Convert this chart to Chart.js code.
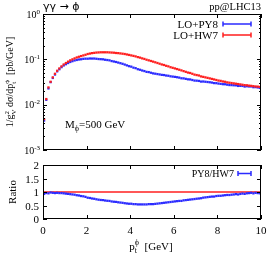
<!DOCTYPE html>
<html>
<head>
<meta charset="utf-8">
<script src="https://cdn.jsdelivr.net/npm/chart.js@4.4.1/dist/chart.umd.min.js"></script>
<style>
  body { margin: 0; background: #fff; }
  #wrap { position: relative; width: 270px; height: 256px; }
  #top { position: absolute; left: 0; top: 0; }
  #bot { position: absolute; left: 0; top: 150px; }
</style>
</head>
<body>
<div id="wrap">
  <canvas id="top" width="270" height="160"></canvas>
  <canvas id="bot" width="270" height="106"></canvas>
</div>
<script>
// bin centres of p_t (GeV)
const ptBins = [
  0.05, 0.15, 0.25, 0.35, 0.45, 0.55, 0.65, 0.75, 0.85, 0.95,
  1.05, 1.15, 1.25, 1.35, 1.45, 1.55, 1.65, 1.75, 1.85, 1.95,
  2.05, 2.15, 2.25, 2.35, 2.45, 2.55, 2.65, 2.75, 2.85, 2.95,
  3.05, 3.15, 3.25, 3.35, 3.45, 3.55, 3.65, 3.75, 3.85, 3.95,
  4.05, 4.15, 4.25, 4.35, 4.45, 4.55, 4.65, 4.75, 4.85, 4.95,
  5.05, 5.15, 5.25, 5.35, 5.45, 5.55, 5.65, 5.75, 5.85, 5.95,
  6.05, 6.15, 6.25, 6.35, 6.45, 6.55, 6.65, 6.75, 6.85, 6.95,
  7.05, 7.15, 7.25, 7.35, 7.45, 7.55, 7.65, 7.75, 7.85, 7.95,
  8.05, 8.15, 8.25, 8.35, 8.45, 8.55, 8.65, 8.75, 8.85, 8.95,
  9.05, 9.15, 9.25, 9.35, 9.45, 9.55, 9.65, 9.75, 9.85, 9.95
];

// LO+HW7, pb/GeV
const hw7 = [
  0.0048, 0.0133, 0.024, 0.032, 0.040, 0.048, 0.056, 0.063, 0.070, 0.077,
  0.083, 0.089, 0.095, 0.100, 0.105, 0.110, 0.114, 0.118, 0.122, 0.126,
  0.131, 0.134, 0.137, 0.139, 0.141, 0.142, 0.143, 0.143, 0.143, 0.143,
  0.142, 0.141, 0.140, 0.138, 0.137, 0.135, 0.133, 0.131, 0.128, 0.125,
  0.122, 0.119, 0.116, 0.112, 0.109, 0.105, 0.102, 0.098, 0.095, 0.092,
  0.089, 0.086, 0.083, 0.080, 0.077, 0.075, 0.072, 0.070, 0.067, 0.065,
  0.063, 0.061, 0.059, 0.057, 0.055, 0.053, 0.051, 0.050, 0.048, 0.046,
  0.045, 0.044, 0.042, 0.041, 0.040, 0.039, 0.038, 0.037, 0.036, 0.035,
  0.034, 0.0335, 0.0325, 0.032, 0.031, 0.0305, 0.030, 0.0295, 0.029, 0.0285,
  0.028, 0.0275, 0.027, 0.0268, 0.0263, 0.026, 0.0256, 0.0252, 0.025, 0.0246
];

// LO+PY8, pb/GeV
const py8 = [
  0.00446, 0.0128, 0.0228, 0.0314, 0.0388, 0.0461, 0.0543, 0.0605, 0.0672, 0.0732,
  0.0780, 0.0828, 0.0874, 0.0910, 0.0945, 0.0968, 0.0992, 0.1003, 0.1025, 0.1033,
  0.1032, 0.1043, 0.1040, 0.1041, 0.1029, 0.1015, 0.1008, 0.1001, 0.0979, 0.0965,
  0.0950, 0.0915, 0.0895, 0.0874, 0.0848, 0.0822, 0.0797, 0.0766, 0.0735, 0.0706,
  0.0689, 0.0655, 0.0638, 0.0605, 0.0589, 0.0567, 0.0551, 0.0529, 0.0523, 0.0506,
  0.0490, 0.0482, 0.0473, 0.0464, 0.0454, 0.0450, 0.0439, 0.0434, 0.0422, 0.0416,
  0.0410, 0.0403, 0.0395, 0.0382, 0.0380, 0.0371, 0.0362, 0.0360, 0.0350, 0.0340,
  0.0338, 0.0334, 0.0323, 0.0324, 0.0320, 0.0316, 0.0312, 0.0307, 0.0299, 0.0298,
  0.0292, 0.0288, 0.0283, 0.0282, 0.0276, 0.0271, 0.0270, 0.0268, 0.0267, 0.0259,
  0.0260, 0.0259, 0.0251, 0.0255, 0.0252, 0.0252, 0.0243, 0.0244, 0.0240, 0.0234
];

const xTicks = [0, 2, 4, 6, 8, 10];
const logTicks = [0.001, 0.01, 0.1, 1];
const logTickLabels = [['10', '-3'], ['10', '-2'], ['10', '-1'], ['10', '0']];
const ratioTicks = [0, 0.5, 1, 1.5, 2];
const ratioTickLabels = ['0', '0.5', '1', '1.5', '2'];

const BLUE = '#2b2bff';
const RED = '#ff1f1f';
const SERIF = '"Liberation Serif", "Times New Roman", serif';
const SANS = '"DejaVu Sans", sans-serif';

// ---------- helpers ----------
function partsWidth(ctx, parts) {
  let w = 0;
  parts.forEach(p => {
    ctx.font = p.s + 'px ' + (p.f || SERIF);
    if (p.t !== undefined) w += ctx.measureText(p.t).width;
    else w += Math.max(ctx.measureText(p.sub || '').width, ctx.measureText(p.sup || '').width);
  });
  return w;
}

function drawRich(ctx, parts, x, y, align) {
  const w = partsWidth(ctx, parts);
  let cx = align === 'center' ? x - w / 2 : (align === 'right' ? x - w : x);
  ctx.textAlign = 'left';
  ctx.textBaseline = 'alphabetic';
  parts.forEach(p => {
    ctx.font = p.s + 'px ' + (p.f || SERIF);
    if (p.t !== undefined) {
      ctx.fillText(p.t, cx, y);
      cx += ctx.measureText(p.t).width;
    } else {
      if (p.sup) ctx.fillText(p.sup, cx, y - (p.up || 4));
      if (p.sub) ctx.fillText(p.sub, cx, y + (p.down || 2));
      cx += Math.max(ctx.measureText(p.sub || '').width, ctx.measureText(p.sup || '').width);
    }
  });
}

function errKey(ctx, x0, x1, y, color) {
  ctx.strokeStyle = color;
  ctx.lineWidth = 1.5;
  ctx.beginPath();
  ctx.moveTo(x0, y); ctx.lineTo(x1, y);
  ctx.moveTo(x0, y - 2.5); ctx.lineTo(x0, y + 2.5);
  ctx.moveTo(x1, y - 2.5); ctx.lineTo(x1, y + 2.5);
  ctx.stroke();
}

function frameTicks(chart, yMajor, yMinor) {
  const { ctx, chartArea: a, scales: { x, y } } = chart;
  ctx.save();
  ctx.strokeStyle = '#000';
  ctx.lineWidth = 1;
  ctx.strokeRect(a.left + 0.5, a.top + 0.5, a.right - a.left - 1, a.bottom - a.top - 1);
  ctx.beginPath();
  xTicks.forEach(v => {
    const px = Math.round(x.getPixelForValue(v)) + 0.5;
    ctx.moveTo(px, a.bottom); ctx.lineTo(px, a.bottom - 4);
    ctx.moveTo(px, a.top); ctx.lineTo(px, a.top + 4);
  });
  yMajor.forEach(v => {
    const py = Math.round(y.getPixelForValue(v)) + 0.5;
    ctx.moveTo(a.left, py); ctx.lineTo(a.left + 4, py);
    ctx.moveTo(a.right, py); ctx.lineTo(a.right - 4, py);
  });
  yMinor.forEach(v => {
    const py = Math.round(y.getPixelForValue(v)) + 0.5;
    ctx.moveTo(a.left, py); ctx.lineTo(a.left + 2, py);
    ctx.moveTo(a.right, py); ctx.lineTo(a.right - 2, py);
  });
  ctx.stroke();
  ctx.restore();
}

// ---------- top panel ----------
const logMinor = [];
logTicks.slice(0, 3).forEach(d => { for (let k = 2; k <= 9; k++) logMinor.push(d * k); });

const topDecor = {
  id: 'topDecor',
  afterDraw(chart) {
    const { ctx, chartArea: a, scales: { y } } = chart;
    frameTicks(chart, logTicks, logMinor);
    ctx.save();
    ctx.fillStyle = '#000';
    // y tick labels
    logTicks.forEach((v, i) => {
      const py = y.getPixelForValue(v);
      drawRich(ctx, [{ t: logTickLabels[i][0], s: 10 }, { sup: logTickLabels[i][1], s: 7, up: 4 }], a.left - 3, py + 3.5, 'right');
    });
    // titles
    drawRich(ctx, [{ t: 'γγ → ϕ', s: 11, f: SANS }], a.left, 10, 'left');
    drawRich(ctx, [{ t: 'pp@LHC13', s: 10.5 }], a.right, 10, 'right');
    // legend
    drawRich(ctx, [{ t: 'LO+PY8', s: 11 }], 218, 28, 'right');
    drawRich(ctx, [{ t: 'LO+HW7', s: 11 }], 218, 39, 'right');
    errKey(ctx, 223, 251, 24, BLUE);
    errKey(ctx, 223, 251, 35, RED);
    // mass label
    drawRich(ctx, [{ t: 'M', s: 11 }, { sub: 'ϕ', s: 8, down: 2.5 }, { t: '=500 GeV', s: 11 }], 65, 128, 'left');
    // y title
    ctx.translate(13, 82);
    ctx.rotate(-Math.PI / 2);
    drawRich(ctx, [
      { t: '1/g', s: 10 }, { sub: 'V', sup: '2', s: 7, up: 4, down: 2.5 },
      { t: ' dσ/dp', s: 10 }, { sub: 't', sup: 'ϕ', s: 7, up: 4, down: 2.5 },
      { t: '  [pb/GeV]', s: 10 }
    ], 0, 0, 'center');
    ctx.restore();
  }
};

new Chart(document.getElementById('top'), {
  type: 'scatter',
  data: {
    datasets: [
      {
        label: 'LO+PY8',
        data: ptBins.map((x, i) => ({ x: x, y: py8[i] })),
        backgroundColor: BLUE, borderWidth: 0,
        pointStyle: 'rect', pointRadius: 1.6, order: 1
      },
      {
        label: 'LO+HW7',
        data: ptBins.map((x, i) => ({ x: x, y: hw7[i] })),
        backgroundColor: RED, borderWidth: 0,
        pointStyle: 'rect', pointRadius: 1.6, order: 0
      }
    ]
  },
  options: {
    responsive: false,
    animation: false,
    layout: { padding: { left: 43, right: 9, top: 14, bottom: 10 } },
    plugins: { legend: { display: false }, tooltip: { enabled: false } },
    scales: {
      x: { type: 'linear', min: 0, max: 10, display: false },
      y: { type: 'logarithmic', min: 0.001, max: 1, display: false }
    }
  },
  plugins: [topDecor]
});

// ---------- ratio panel ----------
const ratio = py8.map((v, i) => v / hw7[i]);

const botDecor = {
  id: 'botDecor',
  afterDraw(chart) {
    const { ctx, chartArea: a, scales: { x, y } } = chart;
    frameTicks(chart, ratioTicks, []);
    ctx.save();
    ctx.fillStyle = '#000';
    ratioTicks.forEach((v, i) => {
      drawRich(ctx, [{ t: ratioTickLabels[i], s: 11 }], a.left - 4, y.getPixelForValue(v) + 4, 'right');
    });
    xTicks.forEach(v => {
      drawRich(ctx, [{ t: String(v), s: 11 }], x.getPixelForValue(v), a.bottom + 15, 'center');
    });
    drawRich(ctx, [{ t: 'p', s: 11 }, { sub: 't', sup: 'ϕ', s: 8, up: 5, down: 2.5 }, { t: '  [GeV]', s: 11 }], 151, a.bottom + 31, 'center');
    drawRich(ctx, [{ t: 'PY8/HW7', s: 10 }], 234, 27, 'right');
    errKey(ctx, 238, 251, 23.5, BLUE);
    ctx.translate(16, 42);
    ctx.rotate(-Math.PI / 2);
    drawRich(ctx, [{ t: 'Ratio', s: 11 }], 0, 0, 'center');
    ctx.restore();
  }
};

new Chart(document.getElementById('bot'), {
  type: 'scatter',
  data: {
    datasets: [
      {
        label: 'PY8/HW7',
        data: ptBins.map((x, i) => ({ x: x, y: ratio[i] })),
        backgroundColor: BLUE, borderWidth: 0,
        pointStyle: 'rect', pointRadius: 1.6, order: 0
      },
      {
        label: 'HW7/HW7',
        data: [{ x: 0, y: 1 }, { x: 10, y: 1 }],
        showLine: true, borderColor: RED, borderWidth: 1.6,
        pointRadius: 0, order: 1
      }
    ]
  },
  options: {
    responsive: false,
    animation: false,
    layout: { padding: { left: 43, right: 9, top: 15, bottom: 37 } },
    plugins: { legend: { display: false }, tooltip: { enabled: false } },
    scales: {
      x: { type: 'linear', min: 0, max: 10, display: false },
      y: { type: 'linear', min: 0, max: 2, display: false }
    }
  },
  plugins: [botDecor]
});
</script>
</body>
</html>
